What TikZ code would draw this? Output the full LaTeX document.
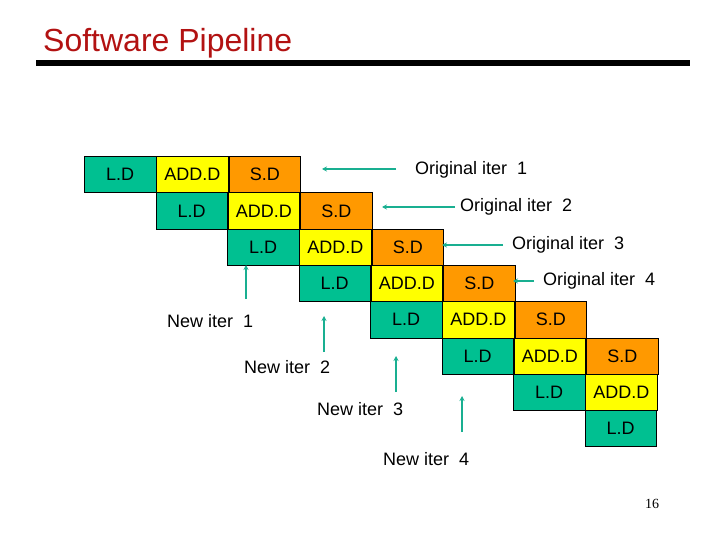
\documentclass[tikz,border=0pt]{standalone}
\usepackage{fontspec}
\setmainfont{Liberation Sans}
\newfontfamily\serifnum{Liberation Serif}
\usetikzlibrary{arrows.meta}
\definecolor{ldgreen}{RGB}{0,192,145}
\definecolor{addyellow}{RGB}{255,255,0}
\definecolor{sdorange}{RGB}{255,153,0}
\definecolor{titlered}{RGB}{178,18,18}
\definecolor{arrowteal}{RGB}{25,175,145}
\tikzset{
  cell/.style={draw=black, line width=0.8pt, inner sep=0pt, anchor=north west,
    minimum width=71.5pt, minimum height=36.3pt,
    font=\fontsize{18}{20}\selectfont},
  ldcell/.style={cell, fill=ldgreen},
  addcell/.style={cell, fill=addyellow},
  sdcell/.style={cell, fill=sdorange},
  lbl/.style={anchor=west, inner sep=0pt, font=\fontsize{18}{20}\selectfont},
  pointer/.style={draw=arrowteal, line width=2pt, -{Stealth[length=5pt,width=5pt]}}
}
\begin{document}
\begin{tikzpicture}[x=1pt,y=-1pt]
\useasboundingbox (0,0) rectangle (720,540);
% title
\node[anchor=base west, inner sep=0pt, text=titlered, font=\fontsize{32}{36}\selectfont] (title) at (43,52) {Software Pipeline};
\fill[black] (36,60) rectangle (690,66);
% pipeline cells
\foreach \i in {0,...,7} {
  \pgfmathsetmacro{\xx}{84+71.5*\i}
  \pgfmathsetmacro{\yy}{156+36.3*\i}
  \node[ldcell] (ld\i) at (\xx,\yy) {L.D};
  \ifnum\i<7
    \node[addcell] (add\i) at (ld\i.north east) {ADD.D};
  \fi
  \ifnum\i<6
    \node[sdcell] (sd\i) at (add\i.north east) {S.D};
  \fi
}
% original iteration labels
\node[lbl] (o1) at (415,170) {Original iter\hspace{0.55em}1};
\node[lbl] (o2) at (460,207) {Original iter\hspace{0.55em}2};
\node[lbl] (o3) at (512,245) {Original iter\hspace{0.55em}3};
\node[lbl] (o4) at (543,281) {Original iter\hspace{0.55em}4};
\coordinate (o1s) at (396,169); \coordinate (o1e) at (322,169);
\coordinate (o2s) at (455,207); \coordinate (o2e) at (382,207);
\coordinate (o3s) at (503,245); \coordinate (o3e) at (442,245);
\coordinate (o4s) at (534,281); \coordinate (o4e) at (513,281);
\draw[pointer] (o1s) -- (o1e);
\draw[pointer] (o2s) -- (o2e);
\draw[pointer] (o3s) -- (o3e);
\draw[pointer] (o4s) -- (o4e);
% new iteration labels
\node[lbl] (n1) at (167,321) {New iter\hspace{0.55em}1};
\node[lbl] (n2) at (244,367) {New iter\hspace{0.55em}2};
\node[lbl] (n3) at (317,409) {New iter\hspace{0.55em}3};
\node[lbl] (n4) at (383,459) {New iter\hspace{0.55em}4};
\coordinate (n1s) at (246,299); \coordinate (n1e) at (246,265);
\coordinate (n2s) at (324,352); \coordinate (n2e) at (324,316);
\coordinate (n3s) at (396,392); \coordinate (n3e) at (396,356);
\coordinate (n4s) at (462,432); \coordinate (n4e) at (462,396);
\draw[pointer] (n1s) -- (n1e);
\draw[pointer] (n2s) -- (n2e);
\draw[pointer] (n3s) -- (n3e);
\draw[pointer] (n4s) -- (n4e);
% page number
\node[inner sep=0pt, font=\serifnum\fontsize{14}{16}\selectfont] (pg) at (652,504) {16};
\end{tikzpicture}
\end{document}
